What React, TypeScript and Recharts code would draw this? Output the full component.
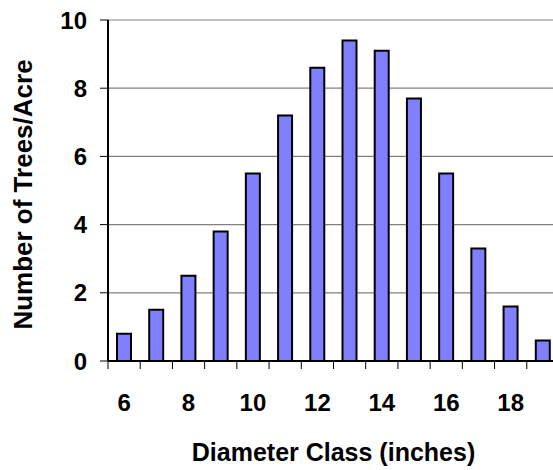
import { Bar, BarChart, CartesianGrid, Label, XAxis, YAxis } from "recharts";

const diameterClasses = [6, 7, 8, 9, 10, 11, 12, 13, 14, 15, 16, 17, 18, 19];
const treesPerAcre = [0.8, 1.5, 2.5, 3.8, 5.5, 7.2, 8.6, 9.4, 9.1, 7.7, 5.5, 3.3, 1.6, 0.6];
const yTicks = [0, 2, 4, 6, 8, 10];
const labelledClasses = [6, 8, 10, 12, 14, 16, 18];
// tick marks sit between the classes
const classEdges = [5.5, 6.5, 7.5, 8.5, 9.5, 10.5, 11.5, 12.5, 13.5, 14.5, 15.5, 16.5, 17.5, 18.5, 19.5];

const data = diameterClasses.map((d, i) => ({ diameter: d, trees: treesPerAcre[i] }));
const xTicks = [...classEdges, ...labelledClasses].sort((a, b) => a - b);

const FONT = '"Liberation Sans", Arial, sans-serif';

function DiameterTick(props: any) {
  const { x, y, payload } = props;
  const v = payload.value;
  if (!Number.isInteger(v)) {
    return <line x1={x} x2={x} y1={y - 8} y2={y} stroke="#000" strokeWidth={1} />;
  }
  return (
    <text x={x} y={y} dy={42} textAnchor="middle" fontFamily={FONT} fontWeight="bold" fontSize={24} fill="#000">
      {v}
    </text>
  );
}

export default function App() {
  return (
    <div style={{ position: "absolute", left: 0, top: 0, width: 553, height: 470, overflow: "hidden", background: "#fff" }}>
      <BarChart width={570} height={470} data={data} margin={{ top: 20, right: 11, bottom: 0, left: 0 }}>
        <CartesianGrid horizontal vertical={false} stroke="#808080" strokeWidth={1.2} />
        <XAxis
          dataKey="diameter"
          type="number"
          domain={[5.5, 19.5]}
          ticks={xTicks}
          interval={0}
          height={109}
          tickLine={false}
          tickSize={8}
          tickMargin={0}
          tick={<DiameterTick />}
          axisLine={{ stroke: "#000", strokeWidth: 2 }}
        >
          <Label
            value="Diameter Class (inches)"
            position="insideBottom"
            offset={9}
            style={{ fontFamily: FONT, fontWeight: "bold", fontSize: 25, fill: "#000" }}
          />
        </XAxis>
        <YAxis
          domain={[0, 10]}
          ticks={yTicks}
          interval={0}
          width={108}
          tickSize={8}
          tickMargin={13}
          tickLine={{ stroke: "#000" }}
          axisLine={{ stroke: "#000", strokeWidth: 2 }}
          tick={{ fontFamily: FONT, fontWeight: "bold", fontSize: 24, fill: "#000" }}
        >
          <Label
            content={({ viewBox }: any) => {
              const cx = 32;
              const cy = viewBox.y + viewBox.height / 2 + 4;
              return (
                <text
                  x={cx}
                  y={cy}
                  transform={`rotate(-90 ${cx} ${cy})`}
                  textAnchor="middle"
                  fontFamily={FONT}
                  fontWeight="bold"
                  fontSize={26}
                  fill="#000"
                >
                  Number of Trees/Acre
                </text>
              );
            }}
          />
        </YAxis>
        <Bar dataKey="trees" barSize={14} fill="#8080ff" stroke="#000" strokeWidth={2} isAnimationActive={false} />
      </BarChart>
    </div>
  );
}
